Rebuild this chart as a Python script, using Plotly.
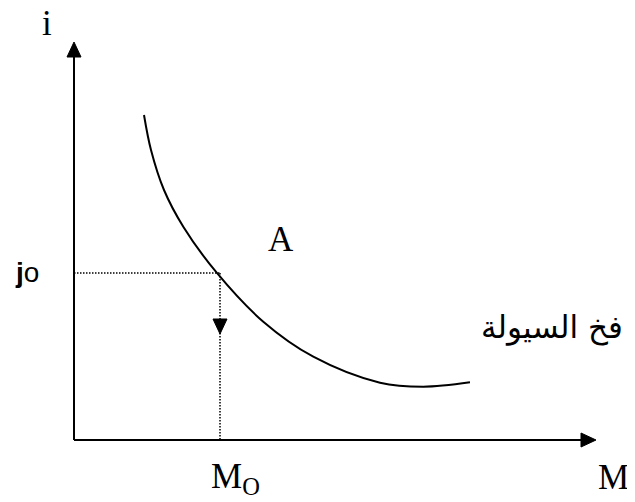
import plotly.graph_objects as go

# ---- data (chart units: origin at the axes' corner) ----
M_vals = [70, 77, 90, 109.3, 142.7, 189.3, 239.3, 306, 349.3, 396]
i_vals = [325, 290, 250, 213.3, 167.3, 118.3, 83.3, 57.3, 53.3, 57.7]
M0 = 146
i0 = 167
x_axis_end = 522
y_axis_end = 398
arrow_tip_i = 106

x_title = "M"
y_title = "i"
m0_label = "M<sub>O</sub>"
i0_label = "<b>j</b>o"
point_label = "A"
trap_label = "فخ السيولة"

# ---- styling ----
ah_len = 15
ah_half = 7
black = "#000000"

fig = go.Figure()

# axes lines
fig.add_trace(go.Scatter(x=[0, x_axis_end - ah_len], y=[0, 0], mode="lines",
                         line=dict(color=black, width=2), hoverinfo="skip"))
fig.add_trace(go.Scatter(x=[0, 0], y=[0, y_axis_end - ah_len], mode="lines",
                         line=dict(color=black, width=2), hoverinfo="skip"))
# arrow heads on axes
fig.add_trace(go.Scatter(x=[x_axis_end - ah_len, x_axis_end, x_axis_end - ah_len, x_axis_end - ah_len],
                         y=[ah_half, 0, -ah_half, ah_half], mode="lines", fill="toself",
                         fillcolor=black, line=dict(color=black, width=1), hoverinfo="skip"))
fig.add_trace(go.Scatter(x=[-ah_half, 0, ah_half, -ah_half],
                         y=[y_axis_end - ah_len, y_axis_end, y_axis_end - ah_len, y_axis_end - ah_len],
                         mode="lines", fill="toself", fillcolor=black,
                         line=dict(color=black, width=1), hoverinfo="skip"))

# dotted guide lines
fig.add_trace(go.Scatter(x=[0, M0], y=[i0, i0], mode="lines",
                         line=dict(color=black, width=1.5, dash="1.5px,1.5px"), hoverinfo="skip"))
fig.add_trace(go.Scatter(x=[M0, M0], y=[i0, 0], mode="lines",
                         line=dict(color=black, width=1.5, dash="1.5px,1.5px"), hoverinfo="skip"))
# down arrow head on dotted line
fig.add_trace(go.Scatter(x=[M0 - ah_half, M0, M0 + ah_half, M0 - ah_half],
                         y=[arrow_tip_i + ah_len, arrow_tip_i, arrow_tip_i + ah_len, arrow_tip_i + ah_len],
                         mode="lines", fill="toself", fillcolor=black,
                         line=dict(color=black, width=1), hoverinfo="skip"))

# demand curve
fig.add_trace(go.Scatter(x=M_vals, y=i_vals, mode="lines",
                         line=dict(color=black, width=2, shape="spline", smoothing=1.0),
                         hoverinfo="skip"))

times = "Liberation Serif, Times New Roman, serif"
sans = "Liberation Sans, Arial, sans-serif"
annos = [
    dict(x=-27, y=417, text=y_title, font=dict(family=times, size=35, color=black)),
    dict(x=539, y=-37, text=x_title, font=dict(family=times, size=35, color=black)),
    dict(x=M0 + 15, y=-38, text=m0_label, font=dict(family=times, size=35, color=black)),
    dict(x=-47, y=i0 + 1, text=i0_label, font=dict(family=sans, size=28, color=black)),
    dict(x=207, y=201, text=point_label, font=dict(family=times, size=35, color=black)),
    dict(x=478, y=113, text=trap_label, font=dict(family="DejaVu Sans, Arial, sans-serif", size=31, color=black)),
]
for a in annos:
    a.update(xref="x", yref="y", showarrow=False, xanchor="center", yanchor="middle")
fig.update_layout(annotations=annos)

# the page body adds an 8px margin, so the figure covers the remaining 627x494 area
fig.update_layout(
    width=627, height=494, autosize=False,
    margin=dict(l=0, r=0, t=0, b=0),
    paper_bgcolor="white", plot_bgcolor="white",
    showlegend=False,
    xaxis=dict(range=[-66, 561], visible=False, fixedrange=True),
    yaxis=dict(range=[-62, 432], visible=False, fixedrange=True),
)

fig.write_html("out.html")
